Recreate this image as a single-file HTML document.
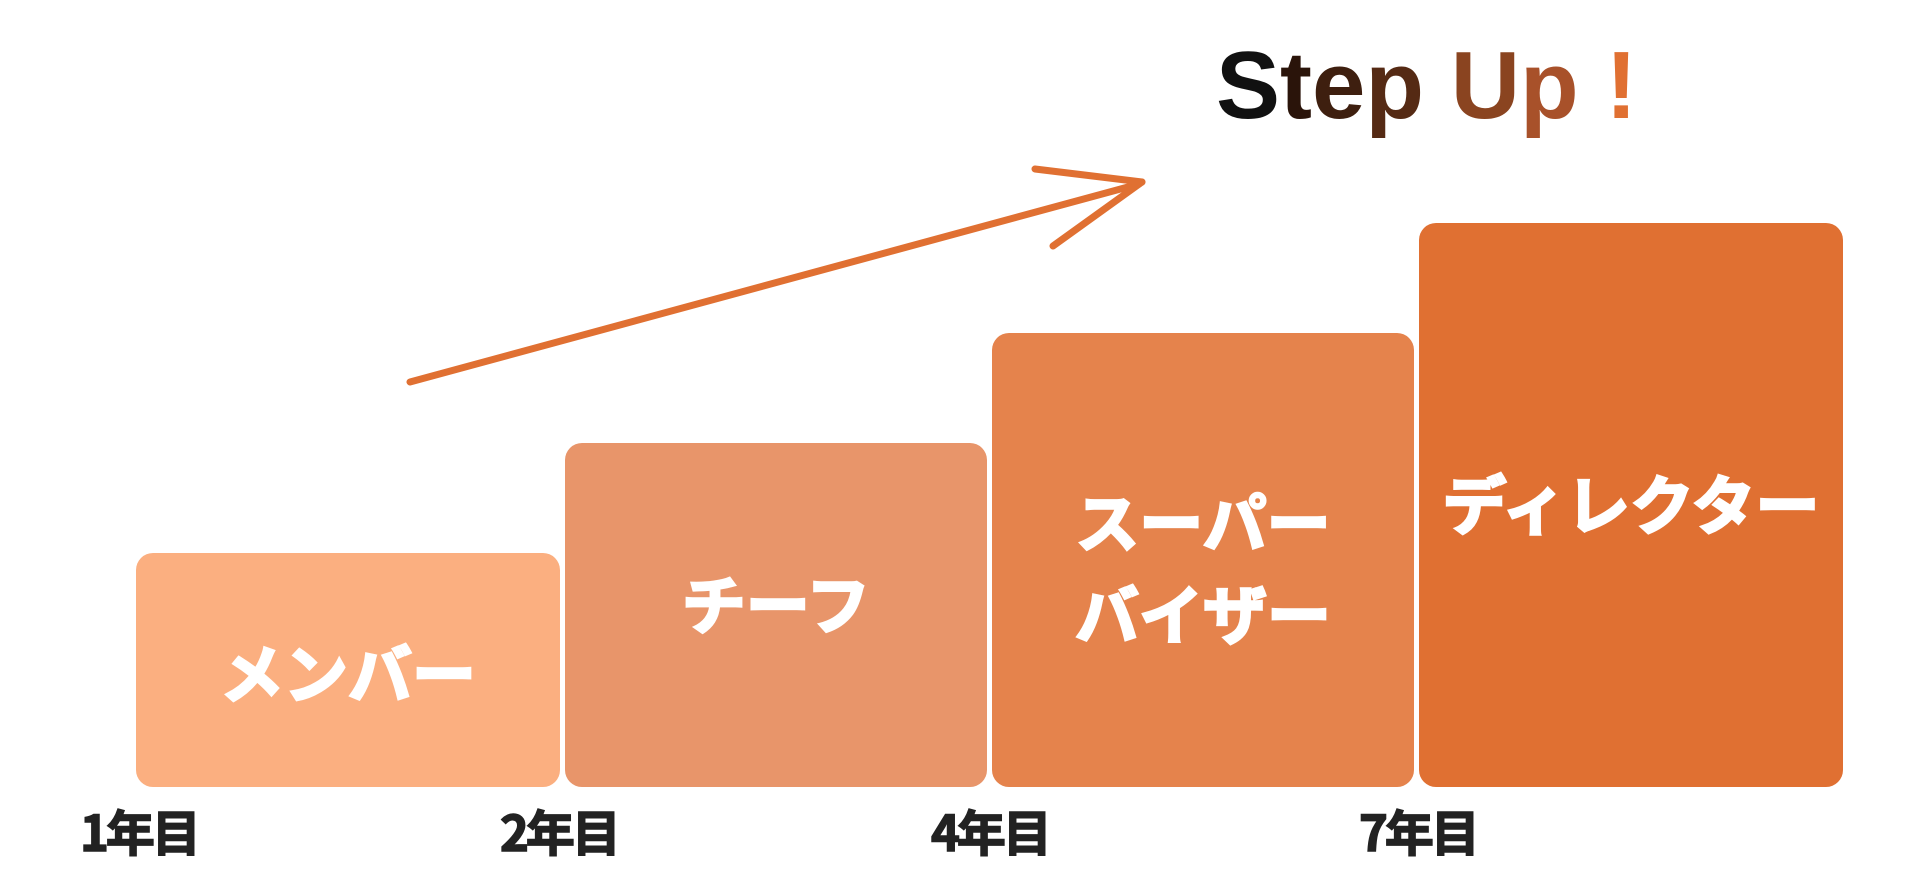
<!DOCTYPE html>
<html><head><meta charset="utf-8"><style>
body{margin:0;width:1920px;height:890px;background:#fff;position:relative;overflow:hidden;font-family:"Liberation Sans","Noto Sans CJK JP",sans-serif}
.b{position:absolute;border-radius:17px;color:#fff;font-weight:bold;font-size:64px;text-align:center;line-height:1;font-family:"Noto Sans CJK JP",sans-serif;-webkit-text-stroke:2.5px #fff}
.y{position:absolute;top:806px;font-size:49px;font-weight:bold;color:#222;line-height:1;font-family:"Noto Sans CJK JP",sans-serif;letter-spacing:-3px;-webkit-text-stroke:1.5px #222}
.t{position:absolute;left:1216px;top:38px;font-size:96px;font-weight:bold;line-height:1;white-space:nowrap}
</style></head><body>
<div class="b" style="left:136px;top:553px;width:424px;height:234px;background:#FBAF80"><div style="margin-top:86px">メンバー</div></div>
<div class="b" style="left:565px;top:443px;width:422px;height:344px;background:#E8956A"><div style="margin-top:127px">チーフ</div></div>
<div class="b" style="left:992px;top:333px;width:422px;height:454px;background:#E5834C"><div style="margin-top:141px;line-height:92px">スーパー<br>バイザー</div></div>
<div class="b" style="left:1419px;top:223px;width:424px;height:564px;background:#E07032"><div style="margin-top:247px">ディレクター</div></div>
<div class="y" style="left:80px">1年目</div>
<div class="y" style="left:500px">2年目</div>
<div class="y" style="left:931px">4年目</div>
<div class="y" style="left:1359px">7年目</div>
<svg width="1920" height="890" style="position:absolute;left:0;top:0">
<g stroke="#E07032" stroke-width="7" stroke-linecap="round" fill="none">
<line x1="410" y1="382" x2="1139" y2="184"/>
<line x1="1035" y1="169" x2="1142" y2="182"/>
<line x1="1053" y1="246" x2="1142" y2="182"/>
</g></svg>
<div class="t"><span style="color:#111">S</span><span style="color:#2a140a">t</span><span style="color:#3e1f0f">e</span><span style="color:#552a14">p</span> <span style="color:#8a4420">U</span><span style="color:#a8512a">p</span> <span style="color:#E07032">!</span></div>
</body></html>
